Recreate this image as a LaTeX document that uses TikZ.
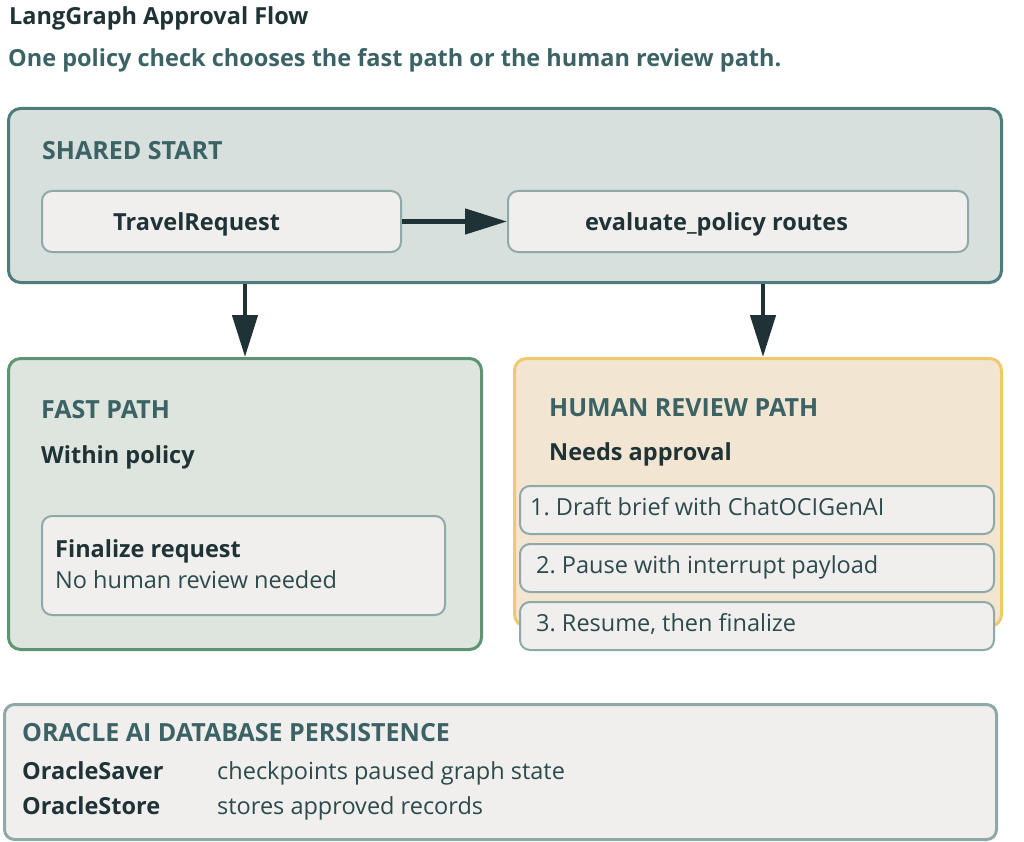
\documentclass[tikz,border=0pt]{standalone}
\usepackage{fontspec}
\setmainfont{Open Sans}
\usetikzlibrary{arrows.meta}
\frenchspacing

\definecolor{ink}{HTML}{1F3336}
\definecolor{headteal}{HTML}{3B6264}
\definecolor{bodyteal}{HTML}{2C4A4C}
\definecolor{sharedfill}{HTML}{D8E0DE}
\definecolor{sharedline}{HTML}{4F7B7B}
\definecolor{fastfill}{HTML}{DEE4DE}
\definecolor{fastline}{HTML}{5E9570}
\definecolor{humanfill}{HTML}{F2E6D2}
\definecolor{humanline}{HTML}{F0C96B}
\definecolor{cardfill}{HTML}{F0EFED}
\definecolor{cardline}{HTML}{8EA9A7}

\tikzset{>={Triangle[width=25pt,length=42pt]}}
\tikzset{
  group/.style={draw, line width=3pt, rounded corners=12pt, anchor=north west, inner sep=0pt},
  card/.style={draw=cardline, fill=cardfill, line width=2pt, rounded corners=10pt, anchor=north west, inner sep=0pt},
  head/.style={anchor=base west, inner sep=0pt, text=headteal, font=\bfseries\fontsize{25}{29}\selectfont},
  strong/.style={anchor=base west, inner sep=0pt, text=ink, font=\bfseries\fontsize{23.5}{27}\selectfont},
  plain/.style={anchor=base west, inner sep=0pt, text=bodyteal, font=\fontsize{23.5}{27}\selectfont},
  flow/.style={->, draw=ink, line width=4.5pt}
}

\begin{document}
\begin{tikzpicture}[x=1pt,y=-1pt]
\useasboundingbox (0,0) rectangle (1024,842);

\node[anchor=base west, inner sep=0pt, text=ink, font=\bfseries\fontsize{23.5}{27}\selectfont] (title) at (9,25) {LangGraph Approval Flow};
\node[anchor=base west, inner sep=0pt, text=headteal, font=\bfseries\fontsize{23.5}{27}\selectfont] (subtitle) at (8,67) {One policy check chooses the fast path or the human review path.};

% shared start
\node[group, draw=sharedline, fill=sharedfill, minimum width=993, minimum height=174] (shared) at (7,107) {};
\node[head] (sharedhead) at (42,160) {SHARED START};
\node[card, minimum width=359, minimum height=61] (travel) at (41,190) {};
\node[strong] (traveltext) at (113,230) {TravelRequest};
\node[card, minimum width=460, minimum height=61] (policy) at (507,190) {};
\node[strong] (policytext) at (585,230) {evaluate\_policy routes};
\draw[flow] (travel) -- (policy);

% fast path
\node[group, draw=fastline, fill=fastfill, minimum width=473, minimum height=291] (fast) at (7,357) {};
\node[head] (fasthead) at (41,418) {FAST PATH};
\node[strong] (fastsub) at (41,463) {Within policy};
\node[card, minimum width=403, minimum height=99] (final) at (41,515) {};
\node[strong] (finaltext) at (55,557) {Finalize request};
\node[plain] (finalnote) at (55,588) {No human review needed};

% human review path
\node[group, draw=humanline, fill=humanfill, minimum width=487, minimum height=268] (human) at (513,357) {};
\node[head] (humanhead) at (549,416) {HUMAN REVIEW PATH};
\node[strong] (humansub) at (549,460) {Needs approval};
\node[card, minimum width=474, minimum height=48] (stepA) at (519,485) {};
\node[plain] (stepAtext) at (530,515) {1. Draft brief with ChatOCIGenAI};
\node[card, minimum width=474, minimum height=48] (stepB) at (519,543) {};
\node[plain] (stepBtext) at (536,573) {2. Pause with interrupt payload};
\node[card, minimum width=474, minimum height=48] (stepC) at (519,601) {};
\node[plain] (stepCtext) at (536,631) {3. Resume, then finalize};

\draw[flow] (shared.south -| fast.north) -- (fast.north);
\draw[flow] ([xshift=5pt]shared.south -| human.north) -- ([xshift=5pt]human.north);

% persistence
\node[card, line width=3pt, minimum width=992, minimum height=135] (store) at (3,703) {};
\node[head] (storehead) at (22,741) {ORACLE AI DATABASE PERSISTENCE};
\node[strong] (saver) at (22,779) {OracleSaver};
\node[plain] (savernote) at (217,779) {checkpoints paused graph state};
\node[strong] (storer) at (22,814) {OracleStore};
\node[plain] (storernote) at (217,814) {stores approved records};

\end{tikzpicture}
\end{document}
